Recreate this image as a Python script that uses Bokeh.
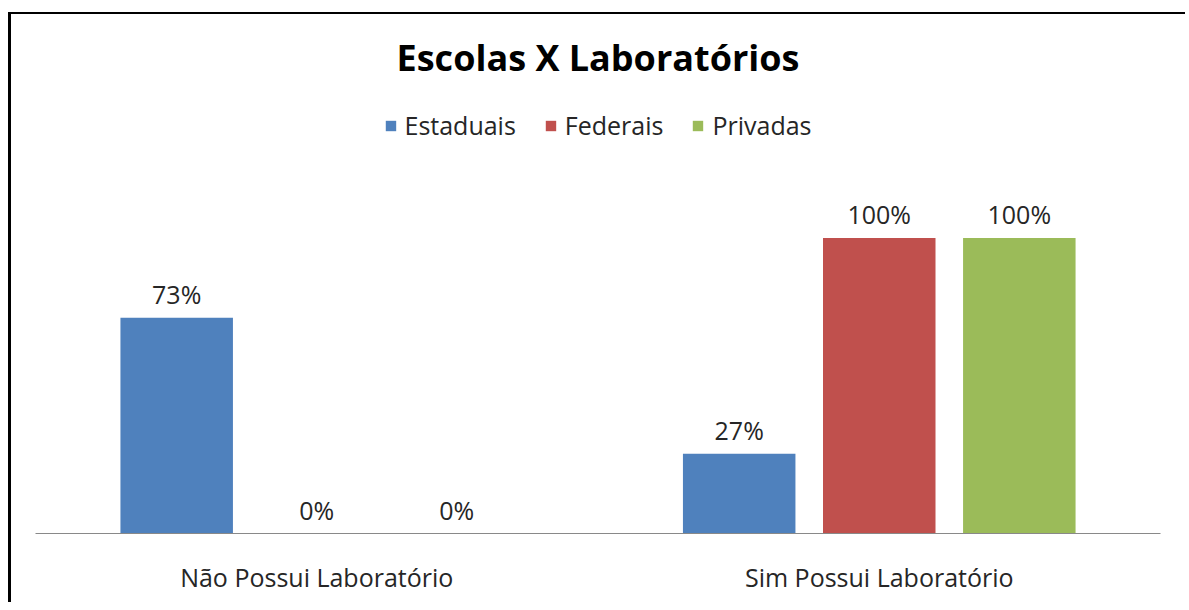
from bokeh.plotting import figure
from bokeh.models import (ColumnDataSource, FactorRange, Range1d, LabelSet, Legend,
                          LegendItem)
from bokeh.core.properties import value
from bokeh.transform import dodge
from bokeh.embed import file_html
from bokeh.resources import INLINE

# ---- data ----
categories = ["Não Possui Laboratório", "Sim Possui Laboratório"]
series = ["Estaduais", "Federais", "Privadas"]
estaduais = [0.73, 0.27]
federais = [0.00, 1.00]
privadas = [0.00, 1.00]
estaduais_labels = ["73%", "27%"]
federais_labels = ["0%", "100%"]
privadas_labels = ["0%", "100%"]
colors = ["#4F81BD", "#C0504D", "#9BBB59"]

values = [estaduais, federais, privadas]
labels = [estaduais_labels, federais_labels, privadas_labels]
offsets = [-0.249, 0.0, 0.249]

FONT = "Open Sans"
TXT = "#262626"

p = figure(width=1177, height=590,
           x_range=FactorRange(*categories, range_padding=0),
           y_range=Range1d(0, 1.4856),
           output_backend="svg", toolbar_location=None,
           min_border_left=24, min_border_right=28,
           min_border_top=80, min_border_bottom=71,
           title="Escolas X Laboratórios")

p.styles = {"margin-left": "8px", "margin-top": "12px",
            "border-left": "3px solid black", "border-top": "2.5px solid black"}

p.title.align = "center"
p.title.text_font = FONT
p.title.text_font_size = "36px"
p.title.text_font_style = "bold"
p.title.text_color = "#000000"
p.title.standoff = 25

items = []
for s, vals, labs, col, off in zip(series, values, labels, colors, offsets):
    src = ColumnDataSource(dict(cat=categories, val=vals, lab=labs))
    r = p.vbar(x=dodge("cat", off, range=p.x_range), top="val", width=0.2,
               source=src, fill_color=col, line_color=None)
    items.append(LegendItem(label=s, renderers=[r]))
    ls = LabelSet(x=dodge("cat", off, range=p.x_range), y="val", text="lab",
                  source=src, text_align="center", text_baseline="bottom",
                  y_offset=7, text_font=value(FONT), text_font_size="25px",
                  text_color=TXT)
    p.add_layout(ls)

legend = Legend(items=items, orientation="horizontal", location="top_center",
                glyph_width=13, glyph_height=13, label_standoff=8, spacing=28,
                padding=0, margin=14, border_line_color=None,
                background_fill_alpha=0,
                label_text_font=FONT, label_text_font_size="25px",
                label_text_color=TXT)
p.add_layout(legend, "center")

p.yaxis.visible = False
p.xgrid.grid_line_color = None
p.ygrid.grid_line_color = None
p.outline_line_color = None
p.xaxis.axis_line_color = "#898989"
p.xaxis.axis_line_width = 1.2
p.xaxis.major_tick_line_color = None
p.xaxis.minor_tick_line_color = None
p.xaxis.major_label_text_font = FONT
p.xaxis.major_label_text_font_size = "25px"
p.xaxis.major_label_text_color = TXT
p.xaxis.major_label_standoff = 20

open("out.html", "w").write(file_html(p, INLINE))
